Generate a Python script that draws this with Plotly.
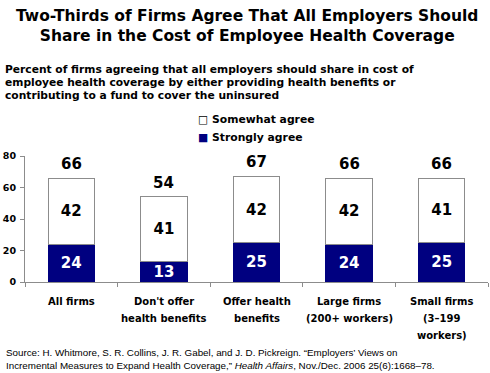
import plotly.graph_objects as go

categories = ["All firms", "Don't offer<br>health benefits", "Offer health<br>benefits",
              "Large firms<br>(200+ workers)", "Small firms<br>(3\u2013199<br>workers)"]
strongly = [24, 13, 25, 24, 25]
somewhat = [42, 41, 42, 42, 41]
totals = [66, 54, 67, 66, 66]

BOLD = "DejaVu Sans, Verdana, sans-serif"
REG = "Liberation Sans, Arial, sans-serif"
L, T, B, R = 25, 156, 91, 2
W, H = 490, 373
PH = H - T - B
PW = W - L - R

def py(ypix):
    return (H - B - ypix) / PH

def px(xpix):
    return (xpix - L) / PW

fig = go.Figure()
fig.add_trace(go.Bar(
    x=categories, y=strongly, name="Strongly agree", showlegend=False,
    marker=dict(color="#000080", line=dict(color="#000080", width=1)),
    text=strongly, textposition="inside", insidetextanchor="middle",
    textangle=0, constraintext="none", hoverinfo="skip",
    textfont=dict(family=BOLD, size=15, color="white", weight="bold"),
))
fig.add_trace(go.Bar(
    x=categories, y=somewhat, name="Somewhat agree", showlegend=False,
    marker=dict(color="white", line=dict(color="#8c8c8c", width=1)),
    text=somewhat, textposition="inside", insidetextanchor="middle",
    textangle=0, constraintext="none", hoverinfo="skip",
    textfont=dict(family=BOLD, size=15, color="black", weight="bold"),
))

for c, t in zip(categories, totals):
    fig.add_annotation(x=c, y=t, text=str(t), showarrow=False, yanchor="bottom", yshift=3,
                       font=dict(family=BOLD, size=15, color="black", weight="bold"))

# category labels, one line at a time for the reference's line spacing
for c in categories:
    for i, line in enumerate(c.split("<br>")):
        fig.add_annotation(x=c, y=0, text=line, showarrow=False, yanchor="middle",
                           yshift=-(19 + 17 * i),
                           font=dict(family=BOLD, size=10, color="black", weight="bold"))

fig.add_annotation(xref="paper", yref="paper", x=px(247), y=py(5), yanchor="top",
                   text="Two-Thirds of Firms Agree That All Employers Should<br>Share in the Cost of Employee Health Coverage",
                   showarrow=False, font=dict(family=BOLD, size=15.5, color="black", weight="bold"))

subtitle = ["Percent of firms agreeing that all employers should share in cost of",
            "employee health coverage by either providing health benefits or",
            "contributing to a fund to cover the uninsured"]
for i, line in enumerate(subtitle):
    fig.add_annotation(xref="paper", yref="paper", x=px(3), y=py(69 + 13 * i), xanchor="left",
                       yanchor="middle", text=line, showarrow=False,
                       font=dict(family=BOLD, size=10.7, color="black", weight="bold"))

legend_items = [("\u25a1", "black", "Somewhat agree"), ("\u25a0", "#000080", "Strongly agree")]
for i, (glyph, col, name) in enumerate(legend_items):
    fig.add_annotation(xref="paper", yref="paper", x=px(196), y=py(120 + 17 * i), xanchor="left",
                       yanchor="middle", showarrow=False,
                       text=f"<span style='color:{col}'>{glyph}</span> {name}",
                       font=dict(family=BOLD, size=10.8, color="black", weight="bold"))

fig.add_annotation(xref="paper", yref="paper", x=px(4), y=py(345), xanchor="left", yanchor="top", align="left",
                   text="Source: H. Whitmore, S. R. Collins, J. R. Gabel, and J. D. Pickreign. \u201cEmployers\u2019 Views on<br>"
                        "Incremental Measures to Expand Health Coverage,\u201d <i>Health Affairs</i>, Nov./Dec. 2006 25(6):1668\u201378.",
                   showarrow=False, font=dict(family=REG, size=9.8, color="black"))

fig.update_layout(
    width=W, height=H, margin=dict(l=L, r=R, t=T, b=B, autoexpand=False),
    paper_bgcolor="white", plot_bgcolor="white",
    barmode="stack", bargap=0.5, showlegend=False,
    xaxis=dict(showline=True, linecolor="#8c8c8c", ticks="outside", tickson="boundaries",
               ticklen=4, tickcolor="#8c8c8c", showticklabels=False),
    yaxis=dict(range=[0, 80], dtick=20, showgrid=False, showline=True, linecolor="#8c8c8c",
               ticks="outside", ticklen=4, tickcolor="#8c8c8c", zeroline=False, ticklabelstandoff=2,
               tickfont=dict(family=BOLD, size=9.5, color="black", weight="bold")),
)

fig.write_html("out.html", config={"displayModeBar": False},
               post_script="document.body.style.margin='0px';")
